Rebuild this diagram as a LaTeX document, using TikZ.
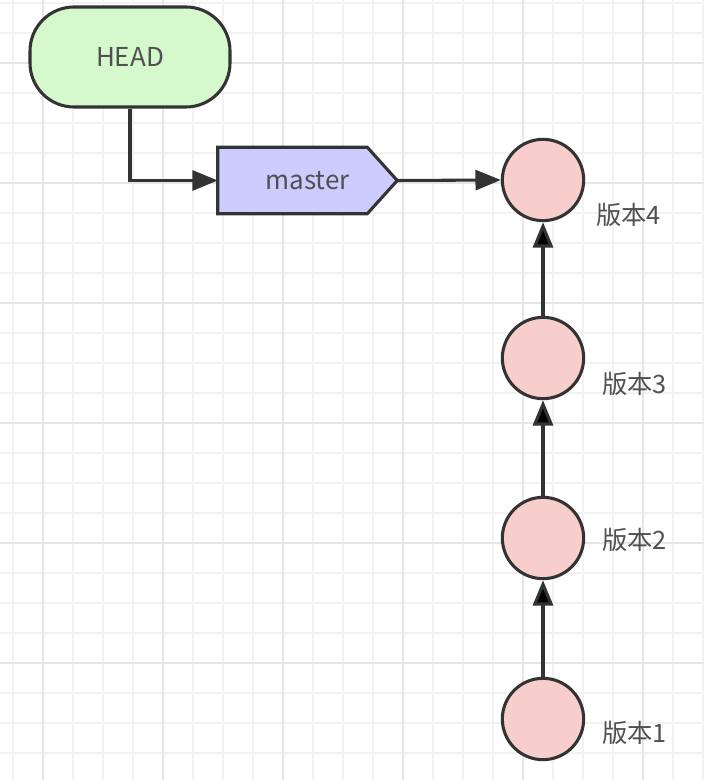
\documentclass[tikz,border=0pt]{standalone}
\usepackage{fontspec}
\usepackage{amsmath}
\usetikzlibrary{arrows.meta,backgrounds}
\newfontfamily\cjk{Noto Sans CJK SC}
\definecolor{headfill}{HTML}{D5F8CD}
\definecolor{branchfill}{HTML}{CCCCFF}
\definecolor{commitfill}{HTML}{F8CECC}
\definecolor{strokecol}{HTML}{333333}
\definecolor{textcol}{HTML}{505050}
\definecolor{gridminor}{HTML}{F2F2F2}
\definecolor{gridmajor}{HTML}{E6E6E6}

\begin{document}
\begin{tikzpicture}[x=0.75pt, y=-0.75pt,
        box/.style={draw=strokecol, line width=2.3pt, text=textcol, font=\cjk\fontsize{19.5}{22}\selectfont},
        commit/.style={box, circle, fill=commitfill, minimum size=61pt, inner sep=0pt},
        vlabel/.style={text=textcol, font=\cjk\fontsize{19}{22}\selectfont, inner sep=0pt, anchor=west},
        link/.style={draw=strokecol, line width=2.3pt, -{Triangle[length=19pt, width=15pt]}}]
        \useasboundingbox (0,0) rectangle (704,780);
        % grid
        \begin{scope}[on background layer]
        \fill[white] (0,0) rectangle (704,780);
        \foreach \x in {13,43,...,703} \draw[gridminor, line width=1.5pt] (\x,0) -- (\x,780);
        \foreach \y in {3,33,...,780} \draw[gridminor, line width=1.5pt] (0,\y) -- (704,\y);
        \foreach \x in {43,163,...,703} \draw[gridmajor, line width=1.5pt] (\x,0) -- (\x,780);
        \foreach \y in {63,183,...,780} \draw[gridmajor, line width=1.5pt] (0,\y) -- (704,\y);
        \end{scope}

        \node[box, rectangle, rounded corners=33pt, fill=headfill, minimum width=150pt, minimum height=75pt] (head) at (130, 57) {HEAD};

        % branch tag
        \node[text=textcol, font=\cjk\fontsize{19.5}{22}\selectfont, minimum width=134.25pt, minimum height=49.5pt, inner sep=0pt] (master) at (307.5, 180.5) {master};
        \begin{scope}[on background layer]
        \filldraw[draw=strokecol, fill=branchfill, line width=2.3pt, line join=miter]
            (master.north west) -- ([xshift=-22.5pt]master.north east) -- (master.east)
            -- ([xshift=-22.5pt]master.south east) -- (master.south west) -- cycle;
        \end{scope}

        \node[commit] (v4) at (543, 180) {};
        \node[commit] (v3) at (543, 358) {};
        \node[commit] (v2) at (543, 538) {};
        \node[commit] (v1) at (543, 719) {};

        \node[vlabel] (l4) at (596, 215) {版本4};
        \node[vlabel] (l3) at (602, 384) {版本3};
        \node[vlabel] (l2) at (602, 540) {版本2};
        \node[vlabel] (l1) at (602, 733) {版本1};

        \draw[link] (head.south) |- (master.west);
        \draw[link] (master.east) -- (v4.west);
        \draw[link] (v1) edge (v2);
        \draw[link] (v2) edge (v3);
        \draw[link] (v3) edge (v4);
\end{tikzpicture}
\end{document}
